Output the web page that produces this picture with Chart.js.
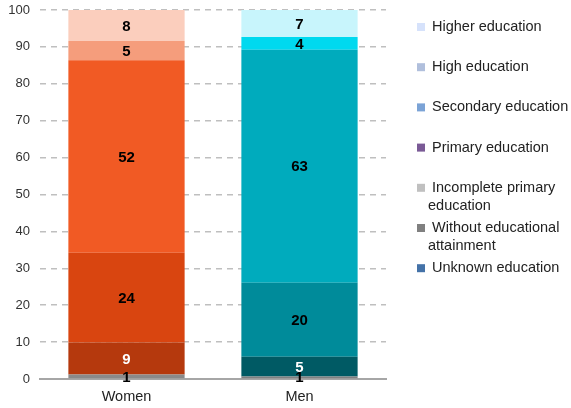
<!DOCTYPE html>
<html>
<head>
<meta charset="utf-8">
<script src="https://cdn.jsdelivr.net/npm/chart.js@4"></script>
<style>
    html, body { margin: 0; padding: 0; background: #fff; }
    #wrap { width: 571px; height: 408px; position: relative; }
</style>
</head>
<body>
<div id="wrap"><canvas id="eduChart"></canvas></div>
<script>
// Education level by sex, share in %
const categories = ['Women', 'Men'];
const levels = [
    'Unknown education',
    ['Without educational', 'attainment'],
    ['Incomplete primary', 'education'],
    'Primary education',
    'Secondary education',
    'High education',
    'Higher education'
];
const unknownEdu = [0, 0];
const withoutEdu = [1.2, 0.7];
const incompletePrimary = [8.7, 5.3];
const primaryEdu = [24.3, 20.1];
const secondaryEdu = [52.2, 63.1];
const highEdu = [5.2, 3.5];
const higherEdu = [8.4, 7.3];
const yTicks = [0, 10, 20, 30, 40, 50, 60, 70, 80, 90, 100];

// Segment colours per bar (women / men) and legend swatches
const segColors = [
    ['#8a8a8a', '#808080'],
    ['#8a8a8a', '#808080'],
    ['#b5390d', '#005a64'],
    ['#d94510', '#008b9a'],
    ['#f15a24', '#00abbd'],
    ['#f59d7c', '#00d9ef'],
    ['#fbcebd', '#c8f5fc']
];
const labelColors = [
    ['#000', '#000'],
    ['#000', '#000'],
    ['#fff', '#fff'],
    ['#000', '#000'],
    ['#000', '#000'],
    ['#000', '#000'],
    ['#000', '#000']
];
const legendColors = ['#4472a8', '#808080', '#c0c0c0', '#7a5a96', '#7ba3d6', '#b0bfdc', '#d6e2fb'];

const series = [unknownEdu, withoutEdu, incompletePrimary, primaryEdu, secondaryEdu, highEdu, higherEdu];

const datasets = series.map((values, i) => ({
    label: Array.isArray(levels[i]) ? levels[i].join(' ') : levels[i],
    data: values,
    backgroundColor: segColors[i],
    borderWidth: 0,
    barPercentage: 0.672,
    categoryPercentage: 1
}));

const FONT = '"Liberation Sans", Arial, sans-serif';

// Value labels inside segments
const segmentLabels = {
    id: 'segmentLabels',
    afterDatasetsDraw(chart) {
        const ctx = chart.ctx;
        ctx.save();
        ctx.font = 'bold 15px ' + FONT;
        ctx.textAlign = 'center';
        ctx.textBaseline = 'middle';
        chart.data.datasets.forEach((ds, i) => {
            const meta = chart.getDatasetMeta(i);
            meta.data.forEach((bar, j) => {
                const v = ds.data[j];
                if (!v) return;
                const yMid = (bar.y + bar.base) / 2;
                ctx.fillStyle = labelColors[i][j];
                ctx.fillText(Math.round(v), bar.x, yMid + 1);
            });
        });
        ctx.restore();
    }
};

// Legend on the right, top entry = Higher education
const sideLegend = {
    id: 'sideLegend',
    afterDraw(chart) {
        const ctx = chart.ctx;
        ctx.save();
        ctx.font = '14.5px ' + FONT;
        ctx.textBaseline = 'middle';
        ctx.textAlign = 'left';
        const x0 = chart.chartArea.right + 31;
        const y0 = chart.chartArea.top + 17;
        const step = 40.2;
        for (let k = 0; k < levels.length; k++) {
            const i = levels.length - 1 - k;
            const y = y0 + k * step;
            ctx.fillStyle = legendColors[i];
            ctx.fillRect(x0, y - 4, 8, 8);
            ctx.fillStyle = '#222';
            const lines = Array.isArray(levels[i]) ? levels[i] : [levels[i]];
            ctx.fillText(lines[0], x0 + 15, y);
            if (lines[1]) ctx.fillText(lines[1], x0 + 11, y + 18);
        }
        ctx.restore();
    }
};

const chart = new Chart(document.getElementById('eduChart').getContext('2d'), {
    type: 'bar',
    data: { labels: categories, datasets: datasets },
    options: {
        responsive: true,
        maintainAspectRatio: false,
        animation: false,
        layout: { padding: { top: 10, right: 185, left: 0, bottom: 0 } },
        scales: {
            x: {
                stacked: true,
                grid: { display: false, drawTicks: false },
                border: { display: true, color: '#a6a6a6', width: 2 },
                ticks: { color: '#222', font: { family: FONT, size: 14.5 }, padding: 9 },
                afterFit: scale => { scale.height = 29; scale.paddingLeft = 0; scale.paddingRight = 0; }
            },
            y: {
                stacked: true,
                min: 0,
                max: 100,
                afterBuildTicks: scale => { scale.ticks = yTicks.map(v => ({ value: v })); },
                grid: { color: '#bfbfbf', lineWidth: 1.5, drawTicks: false },
                border: { display: false, dash: [6, 5] },
                ticks: { color: '#333', font: { family: FONT, size: 13 }, padding: 10 },
                afterFit: scale => { scale.width = 40; scale.paddingTop = 0; scale.paddingBottom = 0; }
            }
        },
        plugins: {
            legend: { display: false },
            tooltip: { enabled: false }
        }
    },
    plugins: [segmentLabels, sideLegend]
});
</script>
</body>
</html>
